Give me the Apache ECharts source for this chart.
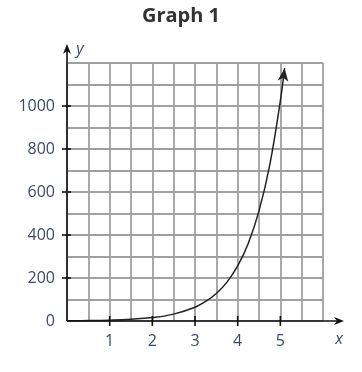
<!DOCTYPE html>
<html>
<head>
<meta charset="utf-8">
<script src="https://cdn.jsdelivr.net/npm/echarts@6/dist/echarts.min.js"></script>
<style>html,body{margin:0;padding:0;background:#fff;}#c{width:362px;height:372px;}</style>
</head>
<body>
<div id="c"></div>
<script>
const xValues = [0, 0.5, 1, 1.5, 2, 2.5, 3, 3.25, 3.5, 3.75, 4, 4.25, 4.5, 4.75, 5, 5.1];
const yValues = [1, 2, 4, 8, 16, 32, 64, 91, 128, 181, 256, 362, 512, 724, 1024, 1176];
const xTickLabels = ['1', '2', '3', '4', '5'];
const yTickLabels = ['0', '200', '400', '600', '800', '1000'];

const labelColor = '#3d4a68';
const font = '"Open Sans", "Noto Sans", sans-serif';

const seriesData = xValues.map((x, i) => {
  if (i === xValues.length - 1) {
    return { value: [x, yValues[i]], symbol: 'arrow', symbolSize: [8, 13], symbolRotate: -7 };
  }
  return [x, yValues[i]];
});

const chart = echarts.init(document.getElementById('c'), null, { renderer: 'canvas' });
chart.setOption({
  animation: false,
  backgroundColor: '#fff',
  title: {
    text: 'Graph 1', left: 'center', top: 6, padding: 0,
    textStyle: { fontFamily: font, fontWeight: 'bold', fontSize: 20, color: '#333' }
  },
  grid: { left: 67, right: 39, top: 63, bottom: 51 },
  xAxis: {
    type: 'value', min: 0, max: 6, interval: 0.5,
    axisLine: { show: false }, axisTick: { show: false },
    splitLine: { show: true, lineStyle: { color: '#a0a0a0', width: 1.8 } },
    axisLabel: {
      margin: 12, color: labelColor, fontFamily: font, fontSize: 16,
      formatter: v => xTickLabels.includes(String(v)) ? String(v) : ''
    }
  },
  yAxis: {
    type: 'value', min: 0, max: 1200, interval: 100,
    axisLine: { show: false }, axisTick: { show: false },
    splitLine: { show: true, lineStyle: { color: '#a0a0a0', width: 1.8 } },
    axisLabel: {
      margin: 12, color: labelColor, fontFamily: font, fontSize: 16,
      formatter: v => yTickLabels.includes(String(v)) ? String(v) : ''
    }
  },
  series: [{
    type: 'line', data: seriesData, smooth: 0.4,
    symbol: 'none', showSymbol: true,
    lineStyle: { color: '#222', width: 1.5 },
    itemStyle: { color: '#222' }
  }]
});

const o = chart.convertToPixel({ gridIndex: 0 }, [0, 0]);
const xe = chart.convertToPixel({ gridIndex: 0 }, [6, 0]);
const ye = chart.convertToPixel({ gridIndex: 0 }, [0, 1200]);
const ox = o[0], oy = o[1];
const xTip = xe[0] + 21, yTip = ye[1] - 19;
const axisStyle = { stroke: '#111', lineWidth: 1.6 };
const g = [];
g.push({ type: 'line', shape: { x1: ox, y1: oy, x2: xTip - 4, y2: oy }, style: axisStyle, z: 10 });
g.push({ type: 'line', shape: { x1: ox, y1: oy, x2: ox, y2: yTip + 4 }, style: axisStyle, z: 10 });
g.push({ type: 'polygon', shape: { points: [[xTip, oy], [xTip - 10, oy - 4], [xTip - 7, oy], [xTip - 10, oy + 4]] }, style: { fill: '#111' }, z: 10 });
g.push({ type: 'polygon', shape: { points: [[ox, yTip], [ox - 4, yTip + 10], [ox, yTip + 7], [ox + 4, yTip + 10]] }, style: { fill: '#111' }, z: 10 });
yTickLabels.forEach(t => {
  const p = chart.convertToPixel({ gridIndex: 0 }, [0, Number(t)]);
  if (Number(t) !== 0) g.push({ type: 'line', shape: { x1: ox - 5, y1: p[1], x2: ox + 4, y2: p[1] }, style: axisStyle, z: 10 });
});
xTickLabels.forEach(t => {
  const p = chart.convertToPixel({ gridIndex: 0 }, [Number(t), 0]);
  g.push({ type: 'line', shape: { x1: p[0], y1: oy - 5, x2: p[0], y2: oy + 5 }, style: axisStyle, z: 10 });
});
g.push({ type: 'text', x: xTip - 5, y: oy + 18, style: { text: 'x', fontFamily: font, fontStyle: 'italic', fontSize: 16, fill: labelColor, textAlign: 'center', textVerticalAlign: 'middle' }, z: 10 });
g.push({ type: 'text', x: ox + 13, y: yTip + 5, style: { text: 'y', fontFamily: font, fontStyle: 'italic', fontSize: 16, fill: labelColor, textAlign: 'center', textVerticalAlign: 'middle' }, z: 10 });
chart.setOption({ graphic: g });
</script>
</body>
</html>
